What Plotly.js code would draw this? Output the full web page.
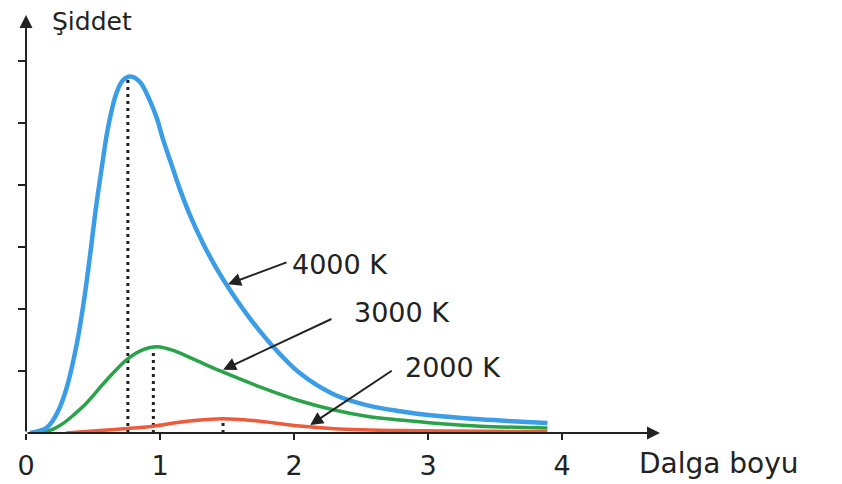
<!DOCTYPE html>
<html>
<head>
<meta charset="utf-8">
<script src="https://cdn.plot.ly/plotly-3.0.1.min.js"></script>
<style>html,body{margin:0;padding:0;background:#fff;}#chart{width:842px;height:484px;}</style>
</head>
<body>
<div id="chart"></div>
<script>
// Wavelength (x) and intensity (y) values
const blueX = [0.03, 0.15, 0.20, 0.25, 0.31, 0.38, 0.43, 0.48, 0.52, 0.57, 0.61, 0.67, 0.72, 0.78, 0.85, 0.92, 0.98, 1.02, 1.09, 1.15, 1.22, 1.32, 1.42, 1.52, 1.67, 1.84, 2.04, 2.29, 2.54, 2.79, 3.00, 3.39, 3.89];
const blueY = [0.00, 0.08, 0.20, 0.40, 0.78, 1.45, 2.10, 2.90, 3.60, 4.35, 4.90, 5.45, 5.68, 5.75, 5.66, 5.38, 5.05, 4.75, 4.30, 3.92, 3.53, 3.06, 2.66, 2.31, 1.85, 1.40, 0.97, 0.63, 0.45, 0.35, 0.29, 0.22, 0.16];
const greenX = [0.10, 0.20, 0.28, 0.36, 0.45, 0.60, 0.75, 0.87, 0.98, 1.10, 1.25, 1.45, 1.75, 2.04, 2.30, 2.54, 2.79, 3.10, 3.39, 3.89];
const greenY = [0.00, 0.06, 0.16, 0.30, 0.48, 0.85, 1.18, 1.34, 1.39, 1.33, 1.19, 1.00, 0.74, 0.52, 0.37, 0.27, 0.21, 0.15, 0.11, 0.08];
const redX = [0.30, 0.55, 0.80, 0.95, 1.20, 1.47, 1.70, 2.00, 2.30, 2.80, 3.40, 3.89];
const redY = [0.00, 0.04, 0.08, 0.11, 0.19, 0.23, 0.20, 0.12, 0.07, 0.04, 0.03, 0.02];
const peakX = [0.76, 0.95, 1.47];
const peakY = [5.72, 1.36, 0.22];
const tempLabels = ["4000 K", "3000 K", "2000 K"];
const xTicks = [0, 1, 2, 3, 4];
const yTicks = [1, 2, 3, 4, 5, 6];
const xTitle = "Dalga boyu";
const yTitle = "Şiddet";

const FONT = "DejaVu Sans";
const INK = "#222222";
const colors = ["#3a9de6", "#2aa24a", "#ee5a3a"];

const traces = [];
for (let i = 0; i < peakX.length; i++) {
  traces.push({x: [peakX[i], peakX[i]], y: [0, peakY[i]], mode: "lines",
    line: {color: INK, width: 3, dash: "3px,4px"}, hoverinfo: "skip", showlegend: false});
}
traces.push({x: redX, y: redY, mode: "lines", line: {color: colors[2], width: 3.5, shape: "spline", smoothing: 1}, showlegend: false});
traces.push({x: greenX, y: greenY, mode: "lines", line: {color: colors[1], width: 3.5, shape: "spline", smoothing: 1}, showlegend: false});
traces.push({x: blueX, y: blueY, mode: "lines", line: {color: colors[0], width: 4.5, shape: "spline", smoothing: 1}, showlegend: false});

const xMax = 4.73, yMax = 6.74;
const labelPos = [[1.97, 2.72], [2.43, 1.95], [2.81, 1.06]];
const arrowTip = [[1.507, 2.40], [1.47, 1.02], [2.12, 0.13]];
const arrowTail = [[1.955, 2.76], [2.29, 1.85], [2.74, 1.02]];

const annotations = [
  {x: xMax, y: 0, ax: 0, ay: 0, xref: "x", yref: "y", axref: "x", ayref: "y", text: "", showarrow: true,
   arrowhead: 2, arrowsize: 1.3, arrowwidth: 2, arrowcolor: INK, standoff: 0},
  {x: 0, y: yMax, ax: 0, ay: 0, xref: "x", yref: "y", axref: "x", ayref: "y", text: "", showarrow: true,
   arrowhead: 2, arrowsize: 1.3, arrowwidth: 2, arrowcolor: INK, standoff: 0},
  {x: 0.18, y: 6.63, xref: "x", yref: "y", text: yTitle, showarrow: false, xanchor: "left", yanchor: "middle",
   font: {family: FONT, size: 25, color: INK}},
  {x: 0.9637, y: -0.072, xref: "paper", yref: "paper", text: xTitle, showarrow: false, xanchor: "left", yanchor: "middle",
   font: {family: FONT, size: 28, color: INK}}
];
for (let i = 0; i < tempLabels.length; i++) {
  annotations.push({x: labelPos[i][0], y: labelPos[i][1], xref: "x", yref: "y", text: tempLabels[i], showarrow: false,
    xanchor: "left", yanchor: "middle", font: {family: FONT, size: 27, color: INK}});
  annotations.push({x: arrowTip[i][0], y: arrowTip[i][1], ax: arrowTail[i][0], ay: arrowTail[i][1],
    xref: "x", yref: "y", axref: "x", ayref: "y", text: "", showarrow: true,
    arrowhead: 2, arrowsize: 1.3, arrowwidth: 2, arrowcolor: INK, standoff: 0});
}

const layout = {
  width: 842, height: 484,
  margin: {l: 26, r: 182, t: 15, b: 51, pad: 0},
  paper_bgcolor: "#ffffff", plot_bgcolor: "#ffffff",
  showlegend: false,
  xaxis: {range: [0, xMax], showgrid: false, zeroline: false, showline: false,
    tickmode: "array", tickvals: xTicks, ticktext: xTicks.map(String),
    ticks: "outside", ticklen: 6, tickwidth: 2, tickcolor: INK, ticklabelstandoff: 3,
    tickfont: {family: FONT, size: 27, color: INK}, fixedrange: true},
  yaxis: {range: [0, yMax], showgrid: false, zeroline: false, showline: false,
    tickmode: "array", tickvals: yTicks, ticktext: yTicks.map(() => ""),
    ticks: "outside", ticklen: 7, tickwidth: 2, tickcolor: INK, showticklabels: false, fixedrange: true},
  annotations: annotations
};

Plotly.newPlot("chart", traces, layout, {displayModeBar: false, staticPlot: true});
</script>
</body>
</html>
